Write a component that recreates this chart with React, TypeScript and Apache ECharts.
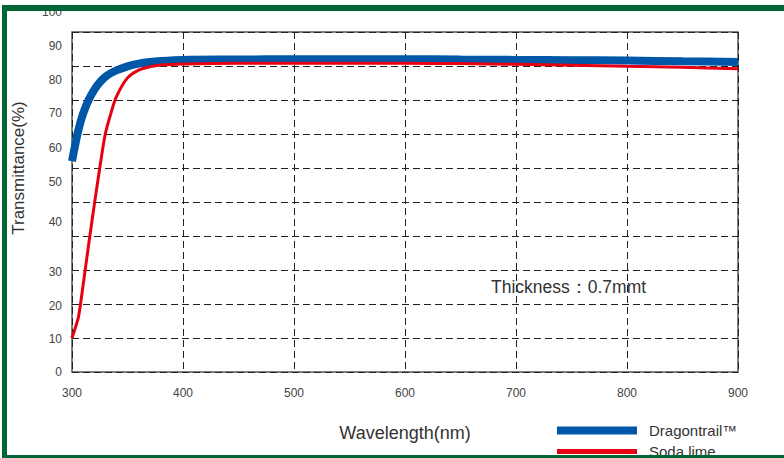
import React, { useEffect, useRef } from "react";
import * as echarts from "echarts";

const wavelengths = [300, 303, 306, 310, 315, 320, 325, 330, 335, 340, 350, 360, 370, 380, 400, 450, 500, 550, 600, 650, 700, 750, 800, 850, 900];
const dragontrail = [62, 67, 71.5, 76, 80, 83, 85.2, 86.8, 87.9, 88.7, 89.9, 90.7, 91.2, 91.5, 91.8, 91.9, 92.0, 92.0, 92.0, 91.9, 91.8, 91.7, 91.6, 91.4, 91.2];
const sodaLime = [10, 13, 16.5, 25.5, 37.5, 49, 60, 70, 76, 81, 86.5, 88.8, 89.8, 90.3, 90.6, 90.8, 90.8, 90.8, 90.8, 90.7, 90.5, 90.2, 89.9, 89.6, 89.2];

const seriesNames = ["Dragontrail™", "Soda lime"];
const yTickLabels = ["0", "10", "20", "30", "40", "50", "60", "70", "80", "90", "100"];
// where the printed y labels sit (in % units) on the original figure
const yTickLabelAt = [0, 9.7, 19.4, 29.4, 44.1, 55.9, 65.9, 76.2, 85.9, 95.9, 105.8];
const annotation = "Thickness：0.7mmt";

export default function App() {
  const ref = useRef<HTMLDivElement>(null);
  useEffect(() => {
    if (!ref.current) return;
    const chart = echarts.init(ref.current, null, { renderer: "svg" });
    const font = "Arial, 'Liberation Sans', Helvetica, sans-serif";
    const green = "#006633";
    const legendBase = {
      orient: "horizontal", left: 557, padding: 0,
      itemWidth: 80, itemHeight: 8,
      textStyle: { fontSize: 15, color: "#333", fontFamily: font, padding: [0, 0, 0, 7] },
    };
    chart.setOption({
      animation: false,
      backgroundColor: "#ffffff",
      textStyle: { fontFamily: font },
      grid: [
        { left: 72, right: 46, top: 32, bottom: 86, show: true, borderColor: "#555", borderWidth: 1.5, backgroundColor: "transparent" },
        { left: 72, right: 46, top: 12, bottom: 86, show: false },
      ],
      xAxis: [
        {
          type: "value", gridIndex: 0, min: 300, max: 900, interval: 100,
          name: "Wavelength(nm)", nameLocation: "middle", nameGap: 52,
          nameTextStyle: { fontSize: 18, color: "#333", fontFamily: font },
          axisLine: { show: false }, axisTick: { show: false },
          axisLabel: { fontSize: 12, color: "#444", margin: 15, fontFamily: font },
          splitLine: { show: true, lineStyle: { color: "#222", type: [7, 4], width: 1 } },
        },
        { type: "value", gridIndex: 1, min: 300, max: 900, show: false },
      ],
      yAxis: [
        {
          type: "value", gridIndex: 0, min: 0, max: 100, interval: 10,
          axisLine: { show: false }, axisTick: { show: false }, axisLabel: { show: false },
          splitLine: { show: true, lineStyle: { color: "#222", type: [7, 4], width: 1 } },
        },
        {
          type: "value", gridIndex: 1, min: 0, max: 105.88,
          axisLine: { show: false }, axisTick: { show: false }, splitLine: { show: false },
          axisLabel: {
            customValues: yTickLabelAt,
            fontSize: 12, color: "#444", margin: 10, fontFamily: font,
            formatter: (v: number) => {
              const i = yTickLabelAt.findIndex((a) => Math.abs(a - v) < 0.01);
              return i >= 0 ? yTickLabels[i] : "";
            },
          },
        },
      ],
      legend: [
        { ...legendBase, top: 423, data: [{ name: seriesNames[0], icon: "rect" }] },
        { ...legendBase, top: 444, data: [{ name: seriesNames[1], icon: "path://M0 0H80V5H0Z" }] },
      ],
      series: [
        {
          name: seriesNames[0], type: "line", xAxisIndex: 0, yAxisIndex: 0,
          data: wavelengths.map((w, i) => [w, dragontrail[i]]),
          smooth: 0.3, showSymbol: false, color: "#0057A8",
          lineStyle: { width: 8, color: "#0057A8" },
        },
        {
          name: seriesNames[1], type: "line", xAxisIndex: 0, yAxisIndex: 0,
          data: wavelengths.map((w, i) => [w, sodaLime[i]]),
          smooth: 0.3, showSymbol: false, color: "#E60012",
          lineStyle: { width: 3, color: "#E60012" },
        },
      ],
      graphic: [
        {
          type: "text", x: 18, y: 168, rotation: Math.PI / 2, z: 50,
          style: { text: "Transmittance(%)", fontSize: 17, fill: "#333", align: "center", verticalAlign: "middle", fontFamily: font },
        },
        {
          type: "text", x: 491, y: 287, z: 50,
          style: { text: annotation, fontSize: 17.5, fill: "#333", align: "left", verticalAlign: "middle", fontFamily: font },
        },
        { type: "rect", z: 100, shape: { x: 2, y: 5, width: 782, height: 6 }, style: { fill: green } },
        { type: "rect", z: 100, shape: { x: 2, y: 5, width: 5, height: 453 }, style: { fill: green } },
        { type: "rect", z: 100, shape: { x: 2, y: 455, width: 782, height: 3 }, style: { fill: green } },
      ],
    });
    return () => chart.dispose();
  }, []);
  return <div ref={ref} style={{ position: "fixed", left: 0, top: 0, width: 784, height: 458 }} />;
}
